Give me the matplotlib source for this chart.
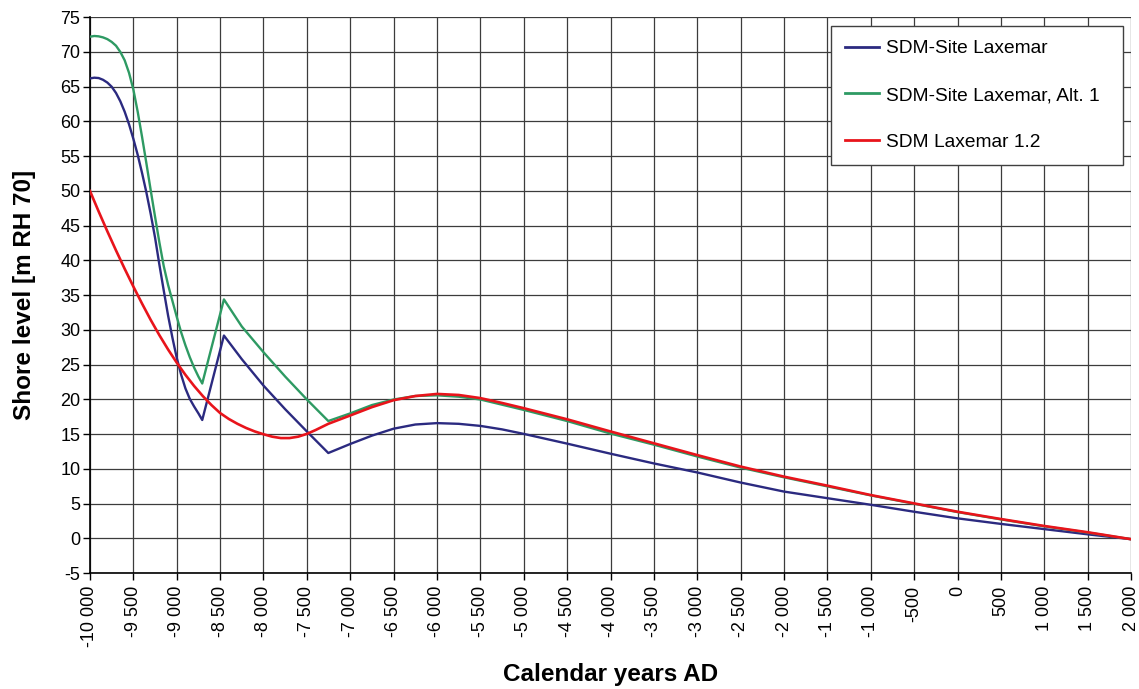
import matplotlib
matplotlib.use("Agg")
import matplotlib.pyplot as plt
from matplotlib.ticker import FuncFormatter, MultipleLocator

plt.rcParams['font.family'] = ['Liberation Sans', 'DejaVu Sans']
plt.rcParams['axes.unicode_minus'] = False

# shore level curves, metres above RH 70
years_site = [-10000, -9950, -9900, -9850, -9800, -9750, -9700, -9650, -9600, -9550,
              -9500, -9450, -9400, -9350, -9300, -9250, -9200, -9150, -9100, -9050,
              -9000, -8950, -8900, -8850, -8800, -8750, -8706,
              -8456, -8250, -8000, -7750, -7500, -7253, -7000, -6750,
              -6500, -6250, -6000, -5750, -5500, -5250, -5000, -4500, -4000, -3500,
              -3000, -2500, -2000, -1500, -1000, -500, 0, 500, 1000, 1500, 2000]
level_site = [66.2, 66.3, 66.25, 66.0, 65.6, 65.0, 64.1, 62.9, 61.4, 59.6,
              57.5, 55.2, 52.6, 49.8, 46.7, 43.3, 39.4, 35.7, 32.1, 28.9,
              26.0, 23.6, 21.6, 20.1, 19.0, 18.0, 17.05,
              29.2, 25.8, 22.0, 18.6, 15.4, 12.3, 13.6, 14.8,
              15.8, 16.4, 16.6, 16.5, 16.2, 15.7, 15.05, 13.65, 12.2, 10.8,
              9.5, 8.05, 6.75, 5.8, 4.85, 3.85, 2.9, 2.1, 1.35, 0.6, -0.1]

years_alt1 = [-10000, -9950, -9900, -9850, -9800, -9750, -9700, -9650, -9600, -9550,
              -9500, -9450, -9400, -9350, -9300, -9250, -9200, -9150, -9100, -9050,
              -9000, -8950, -8900, -8850, -8800, -8750, -8706,
              -8456, -8250, -8000, -7750, -7500, -7253, -7000, -6750,
              -6500, -6250, -6000, -5750, -5500, -5000, -4500, -4000, -3500, -3000,
              -2500, -2000, -1500, -1000, -500, 0, 500, 1000, 1500, 2000]
level_alt1 = [72.2, 72.3, 72.25, 72.1, 71.85, 71.45, 70.9, 70.0, 68.8, 67.0,
              64.6, 61.4, 57.8, 54.0, 50.1, 46.3, 42.6, 39.2, 36.5, 34.2,
              31.9, 29.7, 27.8, 26.1, 24.6, 23.3, 22.3,
              34.4, 30.5, 26.8, 23.3, 20.0, 16.9, 18.0, 19.2,
              20.0, 20.5, 20.6, 20.4, 20.0, 18.5, 16.9, 15.1, 13.5, 11.8,
              10.2, 8.8, 7.5, 6.2, 5.0, 3.8, 2.75, 1.75, 0.85, -0.1]

years_12 = [-10000, -9900, -9800, -9700, -9600, -9500, -9400, -9300, -9200, -9100,
            -9000, -8900, -8800, -8700, -8600, -8500, -8400, -8300, -8200, -8100,
            -8000, -7900, -7800, -7700, -7600, -7500, -7400, -7253, -7000, -6750,
            -6500, -6250, -6000, -5750, -5500, -5250, -5000, -4500, -4000, -3500,
            -3000, -2500, -2000, -1500, -1000, -500, 0, 500, 1000, 1500, 2000]
level_12 = [50.0, 47.05, 44.2, 41.45, 38.8, 36.25, 33.8, 31.45, 29.25, 27.2,
            25.3, 23.55, 21.95, 20.5, 19.2, 18.05, 17.2, 16.5, 15.9, 15.4,
            15.0, 14.65, 14.45, 14.45, 14.65, 15.05, 15.6, 16.5, 17.7, 18.9,
            19.9, 20.5, 20.8, 20.65, 20.2, 19.5, 18.75, 17.15, 15.4, 13.7,
            12.0, 10.35, 8.9, 7.6, 6.25, 5.05, 3.85, 2.8, 1.8, 0.9, -0.1]

labels = ['SDM-Site Laxemar', 'SDM-Site Laxemar, Alt. 1', 'SDM Laxemar 1.2']
colors = ['#2b2a80', '#2e9a63', '#e8141b']

fig = plt.figure(figsize=(11.39, 6.89), dpi=100)
ax = fig.add_axes([0.079, 0.168, 0.914, 0.807])

ax.plot(years_site, level_site, color=colors[0], lw=1.7, label=labels[0], zorder=3)
ax.plot(years_alt1, level_alt1, color=colors[1], lw=1.7, label=labels[1], zorder=3)
ax.plot(years_12, level_12, color=colors[2], lw=1.9, label=labels[2], zorder=4)

ax.set_xlim(-10000, 2000)
ax.set_ylim(-5, 75)
ax.xaxis.set_major_locator(MultipleLocator(500))
ax.yaxis.set_major_locator(MultipleLocator(5))

def thousands(v, pos):
    return f"{int(round(v)):,}".replace(",", " ")

ax.xaxis.set_major_formatter(FuncFormatter(thousands))
ax.tick_params(axis='x', labelrotation=90, labelsize=13, length=5, width=1, pad=4)
ax.tick_params(axis='y', labelsize=13, length=5, width=1, pad=2)

ax.grid(True, color='#3c3c3c', lw=0.9)
ax.set_axisbelow(True)
for side in ['top', 'right']:
    ax.spines[side].set_visible(False)
for side in ['left', 'bottom']:
    ax.spines[side].set_linewidth(1.2)

ax.set_xlabel('Calendar years AD', fontsize=17.5, fontweight='bold')
ax.set_ylabel('Shore level [m RH 70]', fontsize=17.5, fontweight='bold')
ax.xaxis.set_label_coords(0.5, -0.161)
ax.yaxis.set_label_coords(-0.0515, 0.5)

leg = ax.legend(loc='upper left', bbox_to_anchor=(0.712, 0.985, 0.28, 0.0), mode='expand',
                borderaxespad=0, fontsize=13.8, labelspacing=1.53, borderpad=0.745,
                handlelength=1.75, handletextpad=0.35, fancybox=False, framealpha=1)
leg.get_frame().set_edgecolor('#404040')
leg.get_frame().set_linewidth(1.0)
for line in leg.get_lines():
    line.set_linewidth(2)

fig.savefig('out.png', dpi=100)
